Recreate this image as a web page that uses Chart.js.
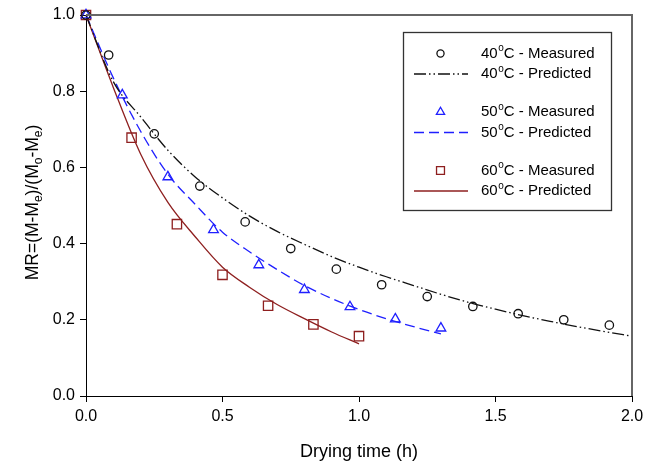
<!DOCTYPE html>
<html>
<head>
<meta charset="utf-8">
<script src="https://cdn.jsdelivr.net/npm/chart.js@4.4.0/dist/chart.umd.min.js"></script>
<style>
  html, body { margin: 0; padding: 0; background: #fff; }
  canvas { display: block; }
</style>
</head>
<body>
<canvas id="c" width="657" height="463"></canvas>
<script>
// measured points
const t40 = [0, 0.083, 0.25, 0.417, 0.583, 0.75, 0.917, 1.083, 1.25, 1.417, 1.583, 1.75, 1.917];
const mr40 = [1.0, 0.895, 0.688, 0.551, 0.457, 0.387, 0.333, 0.292, 0.261, 0.235, 0.216, 0.2, 0.186];
const t50 = [0, 0.133, 0.3, 0.467, 0.633, 0.8, 0.967, 1.133, 1.3];
const mr50 = [1.0, 0.79, 0.575, 0.436, 0.344, 0.279, 0.234, 0.202, 0.178];
const t60 = [0, 0.167, 0.333, 0.5, 0.667, 0.833, 1.0];
const mr60 = [1.0, 0.678, 0.451, 0.318, 0.237, 0.188, 0.157];

// predicted curves
const tFit40 = [0, 0.1, 0.2, 0.3, 0.4, 0.5, 0.6, 0.7, 0.8, 0.9, 1.0, 1.1, 1.2, 1.3, 1.4, 1.5, 1.6, 1.7, 1.8, 1.9, 2.0];
const mrFit40 = [1.0, 0.825, 0.733, 0.645, 0.575, 0.52, 0.472, 0.432, 0.398, 0.366, 0.338, 0.313, 0.29, 0.267, 0.246, 0.228, 0.211, 0.196, 0.182, 0.169, 0.157];
const tFit50 = [0, 0.1, 0.2, 0.3, 0.4, 0.5, 0.6, 0.7, 0.8, 0.9, 1.0, 1.1, 1.2, 1.3];
const mrFit50 = [1.0, 0.835, 0.695, 0.582, 0.503, 0.43, 0.378, 0.332, 0.29, 0.256, 0.227, 0.203, 0.182, 0.163];
const tFit60 = [0, 0.1, 0.2, 0.3, 0.4, 0.5, 0.6, 0.7, 0.8, 0.9, 1.0];
const mrFit60 = [1.0, 0.81, 0.635, 0.508, 0.418, 0.338, 0.285, 0.24, 0.203, 0.168, 0.137];

const temps = ['40', '50', '60'];
const xTitle = 'Drying time (h)';

const FONT = '"Liberation Sans", Arial, sans-serif';
const BLACK = '#111111';
const BLUE = '#1f1fff';
const RED = '#8e1f1f';

const pts = (xs, ys) => xs.map((x, i) => ({ x: x, y: ys[i] }));

const series = [
  { meas: pts(t40, mr40), fit: pts(tFit40, mrFit40), color: BLACK, style: 'circle', radius: 4.2, dash: [12, 3, 1.5, 3, 1.5, 3] },
  { meas: pts(t50, mr50), fit: pts(tFit50, mrFit50), color: BLUE, style: 'triangle', radius: 5.6, dash: [10, 5] },
  { meas: pts(t60, mr60), fit: pts(tFit60, mrFit60), color: RED, style: 'rect', radius: 6.6, dash: [] }
];

const datasets = [];
series.forEach(s => {
  datasets.push({
    data: s.fit,
    showLine: true,
    borderColor: s.color,
    borderWidth: 1.3,
    borderDash: s.dash,
    pointRadius: 0,
    cubicInterpolationMode: 'monotone',
    fill: false,
    clip: false,
    order: 2
  });
  datasets.push({
    data: s.meas,
    showLine: false,
    pointStyle: s.style,
    pointRadius: s.radius,
    pointBorderColor: s.color,
    pointBackgroundColor: 'rgba(0,0,0,0)',
    pointBorderWidth: 1.3,
    clip: false,
    order: 1
  });
});

// frame, y title with subscripts, legend with superscripts
const decorPlugin = {
  id: 'decor',
  afterDraw(chart) {
    const ctx = chart.ctx;
    const a = chart.chartArea;
    ctx.save();

    ctx.strokeStyle = '#666';
    ctx.lineWidth = 2;
    ctx.beginPath();
    ctx.moveTo(a.left, a.top);
    ctx.lineTo(a.right, a.top);
    ctx.lineTo(a.right, a.bottom);
    ctx.stroke();

    // y title
    const parts = [['MR=(M-M', 0], ['e', 1], [')/(M', 0], ['o', 1], ['-M', 0], ['e', 1], [')', 0]];
    const big = '17.5px ' + FONT, small = '12px ' + FONT;
    let w = 0;
    parts.forEach(p => { ctx.font = p[1] ? small : big; w += ctx.measureText(p[0]).width; });
    ctx.translate(38, (a.top + a.bottom) / 2 - 3);
    ctx.rotate(-Math.PI / 2);
    ctx.fillStyle = '#000';
    ctx.textBaseline = 'alphabetic';
    let x = -w / 2;
    parts.forEach(p => {
      ctx.font = p[1] ? small : big;
      ctx.fillText(p[0], x, p[1] ? 4 : 0);
      x += ctx.measureText(p[0]).width;
    });
    ctx.restore();

    // legend
    ctx.save();
    ctx.strokeStyle = '#333';
    ctx.lineWidth = 1.3;
    ctx.strokeRect(403.5, 32.5, 208, 178);
    ctx.textBaseline = 'middle';
    series.forEach((s, g) => {
      const y1 = 53.5 + g * 58.5;
      const y2 = y1 + 20.5;
      ctx.strokeStyle = s.color;
      ctx.fillStyle = 'rgba(0,0,0,0)';
      ctx.lineWidth = 1.3;
      Chart.helpers.drawPoint(ctx, { pointStyle: s.style, radius: s.radius * 0.85, rotation: 0, borderWidth: 1.3 }, 440.5, y1);
      ctx.setLineDash(s.dash);
      ctx.beginPath();
      ctx.moveTo(414, y2);
      ctx.lineTo(468, y2);
      ctx.stroke();
      ctx.setLineDash([]);
      [[y1, ' - Measured'], [y2, ' - Predicted']].forEach(r => {
        ctx.fillStyle = '#000';
        let tx = 481;
        ctx.font = '15px ' + FONT;
        ctx.fillText(temps[g], tx, r[0]);
        tx += ctx.measureText(temps[g]).width;
        ctx.font = '10px ' + FONT;
        ctx.fillText('o', tx + 0.5, r[0] - 5);
        tx += ctx.measureText('o').width + 0.5;
        ctx.font = '15px ' + FONT;
        ctx.fillText('C' + r[1], tx, r[0]);
      });
    });
    ctx.restore();
  }
};

new Chart(document.getElementById('c'), {
  type: 'scatter',
  data: { datasets: datasets },
  options: {
    responsive: false,
    animation: false,
    layout: { padding: { top: 15, right: 25, left: 0, bottom: 0 } },
    plugins: { legend: { display: false }, tooltip: { enabled: false } },
    scales: {
      x: {
        type: 'linear',
        min: 0, max: 2,
        afterFit: s => { s.height = 67; },
        ticks: { stepSize: 0.5, color: '#000', padding: 5, font: { family: FONT, size: 16 }, callback: v => v.toFixed(1) },
        grid: { drawOnChartArea: false, drawTicks: true, tickLength: 6, color: '#000' },
        border: { color: '#000', width: 1 },
        title: { display: true, text: xTitle, color: '#000', font: { family: FONT, size: 18 }, padding: { top: 12, bottom: 0 } }
      },
      y: {
        type: 'linear',
        min: 0, max: 1,
        afterFit: s => { s.width = 86; },
        ticks: { stepSize: 0.2, color: '#000', padding: 5, font: { family: FONT, size: 16 }, callback: v => v.toFixed(1) },
        grid: { drawOnChartArea: false, drawTicks: true, tickLength: 6, color: '#000' },
        border: { color: '#000', width: 1 }
      }
    }
  },
  plugins: [decorPlugin]
});
</script>
</body>
</html>
